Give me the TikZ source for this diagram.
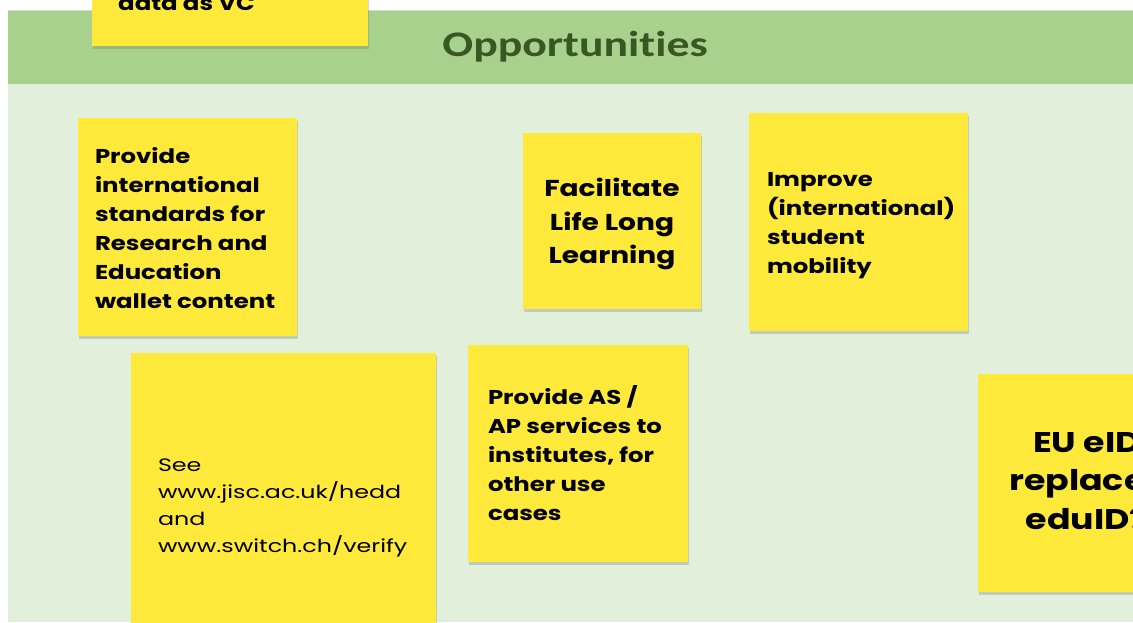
\documentclass[tikz,border=0pt]{standalone}
\usepackage{fontspec}
\setmainfont{Poppins}[FakeStretch=1.22]
\newfontfamily\widefont{Poppins}[FakeStretch=1.32]
\newfontfamily\hdrfont{Carlito}[FakeStretch=1.27, Ligatures=NoCommon]
\usetikzlibrary{shadows}
\definecolor{stickyyellow}{RGB}{255,233,59}
\definecolor{hdrgreen}{RGB}{169,209,142}
\definecolor{bodygreen}{RGB}{226,239,218}
\definecolor{hdrtext}{RGB}{56,87,35}
\begin{document}
\begin{tikzpicture}[x=1pt,y=-1pt,
  stickybox/.style={fill=stickyyellow, drop shadow={shadow xshift=0.5pt, shadow yshift=-2.5pt, opacity=0.25, fill=black!60}, inner sep=0pt},
  stickytext/.style={inner sep=0pt, align=left, font=\bfseries\fontsize{20}{29}\selectfont}]
\useasboundingbox (0,0) rectangle (1133,622);
\clip (0,0) rectangle (1133,622);
\fill[white] (0,0) rectangle (1133,622);
\fill[bodygreen] (8,84) rectangle (1133,622);
\fill[hdrgreen] (8,10) rectangle (1133,84);
\draw[black!15, line width=0.8pt] (8,10.4) -- (1133,10.4);
\node[font=\hdrfont\bfseries\fontsize{36}{42}\selectfont, text=hdrtext] (title) at (575,47) {Opportunities};
% top sticky (cut off)
\node[stickybox, minimum width=276pt, minimum height=218pt] (s0) at (230,-63) {};
\node[anchor=base west, stickytext] (s0text) at (118,10) {data as VC};
% sticky boxes
\node[stickybox, minimum width=219pt, minimum height=218pt] (s1) at (187.5,227) {};
\node[stickybox, minimum width=305pt, minimum height=304pt] (s2) at (283.5,505) {};
\node[stickybox, minimum width=178pt, minimum height=176pt] (s3) at (612,221) {};
\node[stickybox, minimum width=219pt, minimum height=218pt] (s4) at (858.5,222) {};
\node[stickybox, minimum width=220pt, minimum height=217pt] (s5) at (578,453.5) {};
\node[stickybox, minimum width=218pt, minimum height=218pt] (s6) at (1087,483) {};
% texts
\node[stickytext, anchor=west, yshift=-1pt] (t1) at ([xshift=17pt]s1.west)
  {Provide\\international\\standards for\\Research and\\Education\\wallet content};
\node[stickytext, anchor=west, yshift=-3pt, font=\widefont\mdseries\fontsize{18}{27}\selectfont] (t2) at ([xshift=27pt]s2.west)
  {See\\www.jisc.ac.uk/hedd\\and\\www.switch.ch/verify};
\node[stickytext, align=center, yshift=-3pt, font=\bfseries\fontsize{23}{33.5}\selectfont] (t3) at (s3.center)
  {Facilitate\\Life Long\\Learning};
\node[stickytext, anchor=west, yshift=-4pt] (t4) at ([xshift=18pt]s4.west)
  {Improve\\(international)\\student\\mobility};
\node[stickytext, anchor=west] (t5) at ([xshift=20pt]s5.west)
  {Provide AS /\\AP services to\\institutes, for\\other use\\cases};
\node[stickytext, align=center, yshift=2pt, font=\bfseries\fontsize{28.5}{38.5}\selectfont] (t6) at (s6.center)
  {EU eID\\replaces\\eduID?};
\end{tikzpicture}
\end{document}
